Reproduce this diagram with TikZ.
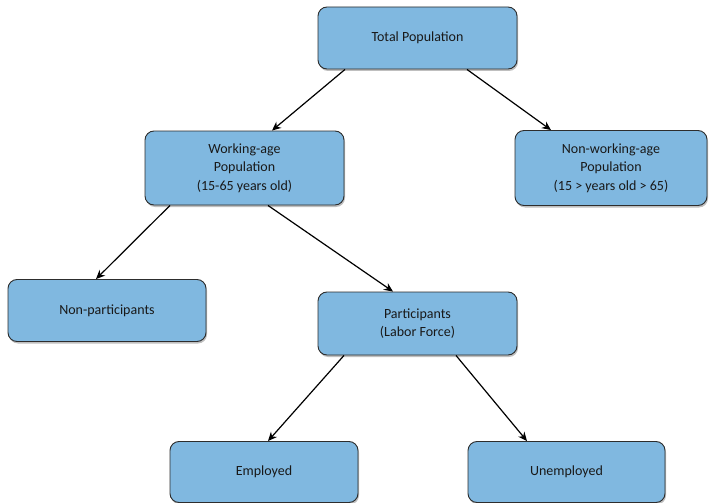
\documentclass[tikz,border=0pt]{standalone}
\usepackage{fontspec}
\setmainfont{Carlito}
\usetikzlibrary{arrows.meta,shadows}
\definecolor{boxfill}{RGB}{128,184,224}
\definecolor{boxline}{RGB}{45,45,45}
\tikzset{
  box/.style={draw=boxline, line width=0.9pt, fill=boxfill, rounded corners=9pt,
    align=center, font=\fontsize{14}{18.5}\selectfont, text=black!90,
    drop shadow={shadow xshift=1pt, shadow yshift=-2pt, opacity=0.25, fill=black}},
  link/.style={-{Stealth[length=9pt,width=8pt]}, line width=1.2pt, black}
}
\begin{document}
\begin{tikzpicture}[x=1pt,y=-1pt]
\useasboundingbox (0,0) rectangle (710,503);
\node[box, minimum width=199pt, minimum height=62pt] (tot) at (417.5,38) {Total Population};
\node[box, minimum width=199pt, minimum height=74pt] (work) at (244.5,168) {Working-age\\Population\\(15-65 years old)};
\node[box, minimum width=192pt, minimum height=75pt] (nonw) at (611,168) {Non-working-age\\Population\\(15 {>} years old {>} 65)};
\node[box, minimum width=198pt, minimum height=62pt] (nonp) at (107,310.5) {Non-participants};
\node[box, minimum width=199pt, minimum height=63pt] (part) at (417.5,323.5) {Participants\\(Labor Force)};
\node[box, minimum width=188pt, minimum height=61pt] (emp) at (264,472) {Employed};
\node[box, minimum width=197pt, minimum height=61pt] (unemp) at (566.5,472) {Unemployed};
\draw[link] ([xshift=-72.5pt]tot.south) -- ([xshift=27.5pt]work.north);
\draw[link] ([xshift=49.5pt]tot.south) -- ([xshift=-60pt]nonw.north);
\draw[link] ([xshift=-74.5pt]work.south) -- ([xshift=-11pt]nonp.north);
\draw[link] ([xshift=23.5pt]work.south) -- ([xshift=-24.5pt]part.north);
\draw[link] ([xshift=-73.5pt]part.south) -- ([xshift=4pt]emp.north);
\draw[link] ([xshift=38.5pt]part.south) -- ([xshift=-39.5pt]unemp.north);
\end{tikzpicture}
\end{document}
